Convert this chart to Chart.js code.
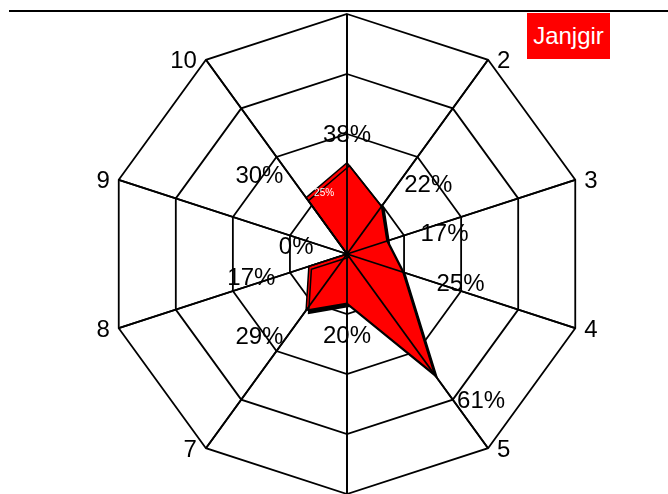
<!DOCTYPE html>
<html>
<head>
<meta charset="utf-8">
<script src="https://cdn.jsdelivr.net/npm/chart.js@4/dist/chart.umd.min.js"></script>
<style>
html, body { margin: 0; padding: 0; background: #fff; }
#wrap { position: relative; width: 668px; height: 494px; overflow: hidden; }
#topline { position: absolute; left: 0; right: 0; top: 0; height: 10px; background: #fff; }
#topline::after { content: ""; position: absolute; left: 9px; right: 0; top: 10px; border-top: 2px solid #000; }
#legend { position: absolute; left: 527px; top: 13px; width: 83px; height: 46px; background: #f00; color: #fff;
  font: 24px "Liberation Sans", Arial, sans-serif; line-height: 46px; text-align: center; }
</style>
</head>
<body>
<div id="wrap">
  <canvas id="chart" width="668" height="494"></canvas>
  <div id="topline"></div>
  <div id="legend"></div>
</div>
<script>
// data
const categories = ['1', '2', '3', '4', '5', '6', '7', '8', '9', '10'];
const seriesName = 'Janjgir';
const shareValues = [38, 24.5, 17.5, 24.5, 62, 20.5, 29, 16.7, 0, 29];
const shareLabels = ['38%', '22%', '17%', '25%', '61%', '20%', '29%', '17%', '0%', '30%'];
const scaleMax = 100;
const ringStep = 25;
// the small white note sitting on the shape
const noteIndex = 9;
const noteText = '25%';

const FONT = '"Liberation Sans", Arial, sans-serif';

document.getElementById('legend').textContent = seriesName;

// put text next to a point, pushed out along the spoke direction
function placeText(ctx, text, p, angle, gap, alongSpoke, sidePad, drop) {
  const s = Math.sin(angle), c = Math.cos(angle);
  const side = Math.abs(s) < 0.1 ? 0 : Math.sign(s);
  let x, y;
  if (alongSpoke) {
    x = p.x + s * gap + side * sidePad;
    y = p.y - c * gap;
  } else {
    x = p.x + side * gap;
    y = p.y + (side === 0 ? -Math.sign(c) * (gap + 8) : 0);
  }
  ctx.textBaseline = 'middle';
  ctx.textAlign = side === 0 ? 'center' : (side > 0 ? 'left' : 'right');
  ctx.fillText(text, x, y + drop);
}

const radarExtras = {
  id: 'radarExtras',
  beforeDatasetsDraw(chart) {
    const ctx = chart.ctx;
    ctx.save();
    ctx.shadowColor = '#000';
    ctx.shadowOffsetX = 2.5;
    ctx.shadowOffsetY = 3;
    ctx.shadowBlur = 0;
  },
  afterDatasetsDraw(chart) {
    const ctx = chart.ctx;
    ctx.restore();
    const r = chart.scales.r;

    // spokes sit on top of the red shape
    ctx.save();
    ctx.strokeStyle = '#000';
    ctx.lineWidth = 1.8;
    categories.forEach((c, i) => {
      const p = r.getPointPositionForValue(i, r.max);
      ctx.beginPath();
      ctx.moveTo(r.xCenter, r.yCenter);
      ctx.lineTo(p.x, p.y);
      ctx.stroke();
    });

    // category names at the outer ring
    ctx.fillStyle = '#000';
    ctx.font = '24px ' + FONT;
    categories.forEach((c, i) => {
      const p = r.getPointPositionForValue(i, r.max);
      placeText(ctx, c, p, r.getIndexAngle(i), 9, false, 0, 2);
    });

    // percentage labels beside each vertex
    shareLabels.forEach((t, i) => {
      const p = r.getPointPositionForValue(i, shareValues[i]);
      placeText(ctx, t, p, r.getIndexAngle(i), 30, true, 5, 3);
    });

    // small white note
    const np = r.getPointPositionForValue(noteIndex, shareValues[noteIndex]);
    ctx.fillStyle = '#fff';
    ctx.font = '10px ' + FONT;
    ctx.textAlign = 'left';
    ctx.textBaseline = 'middle';
    ctx.fillText(noteText, np.x + 8, np.y - 4);
    ctx.restore();
  }
};

new Chart(document.getElementById('chart'), {
  type: 'radar',
  data: {
    labels: categories,
    datasets: [{
      label: seriesName,
      data: shareValues,
      backgroundColor: '#ff0000',
      borderColor: '#000',
      borderWidth: 1.5,
      fill: true,
      pointRadius: 0,
      pointHoverRadius: 0
    }]
  },
  options: {
    responsive: false,
    animation: false,
    events: [],
    layout: { padding: { top: 14, bottom: 0, left: 107, right: 81 } },
    plugins: {
      legend: { display: false },
      tooltip: { enabled: false }
    },
    scales: {
      r: {
        min: 0,
        max: scaleMax,
        ticks: { display: false, stepSize: ringStep },
        grid: { color: '#000', lineWidth: 1.8, circular: false },
        angleLines: { color: '#000', lineWidth: 1.8 },
        pointLabels: { display: false }
      }
    }
  },
  plugins: [radarExtras]
});
</script>
</body>
</html>
